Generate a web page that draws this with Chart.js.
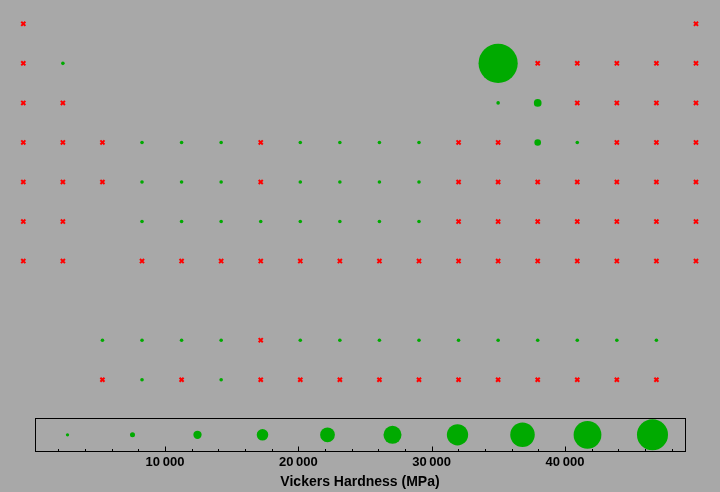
<!DOCTYPE html>
<html><head><meta charset="utf-8">
<script src="https://cdn.jsdelivr.net/npm/chart.js@4.4.1/dist/chart.umd.min.js"></script>
<style>
html,body{margin:0;padding:0;background:#a8a8a8;width:720px;height:492px;overflow:hidden;}
#main{position:absolute;left:0;top:0;}
#leg{position:absolute;left:0;top:400px;}
</style></head><body>
<canvas id="main" width="720" height="400"></canvas>
<canvas id="leg" width="720" height="92"></canvas>
<script>
// Elements in atomic-number order
const elements = ['H','He','Li','Be','B','C','N','O','F','Ne','Na','Mg','Al','Si','P','S','Cl','Ar',
 'K','Ca','Sc','Ti','V','Cr','Mn','Fe','Co','Ni','Cu','Zn','Ga','Ge','As','Se','Br','Kr',
 'Rb','Sr','Y','Zr','Nb','Mo','Tc','Ru','Rh','Pd','Ag','Cd','In','Sn','Sb','Te','I','Xe',
 'Cs','Ba','La','Ce','Pr','Nd','Pm','Sm','Eu','Gd','Tb','Dy','Ho','Er','Tm','Yb','Lu',
 'Hf','Ta','W','Re','Os','Ir','Pt','Au','Hg','Tl','Pb','Bi','Po','At','Rn',
 'Fr','Ra','Ac','Th','Pa','U','Np','Pu','Am','Cm','Bk','Cf','Es','Fm','Md','No','Lr',
 'Rf','Db','Sg','Bh','Hs','Mt','Ds','Rg','Cn','Nh','Fl','Mc','Lv','Ts','Og'];
// Periodic-table column (group) of each element
const groupCol = [1,18, 1,2,13,14,15,16,17,18, 1,2,13,14,15,16,17,18,
 1,2,3,4,5,6,7,8,9,10,11,12,13,14,15,16,17,18,
 1,2,3,4,5,6,7,8,9,10,11,12,13,14,15,16,17,18,
 1,2,3,4,5,6,7,8,9,10,11,12,13,14,15,16,17,
 4,5,6,7,8,9,10,11,12,13,14,15,16,17,18,
 1,2,3,4,5,6,7,8,9,10,11,12,13,14,15,16,17,
 4,5,6,7,8,9,10,11,12,13,14,15,16,17,18];
// Table row (periods 1-7, lanthanides 9, actinides 10)
const tableRow = [1,1, 2,2,2,2,2,2,2,2, 3,3,3,3,3,3,3,3,
 4,4,4,4,4,4,4,4,4,4,4,4,4,4,4,4,4,4,
 5,5,5,5,5,5,5,5,5,5,5,5,5,5,5,5,5,5,
 6,6,9,9,9,9,9,9,9,9,9,9,9,9,9,9,9,
 6,6,6,6,6,6,6,6,6,6,6,6,6,6,6,
 7,7,10,10,10,10,10,10,10,10,10,10,10,10,10,10,10,
 7,7,7,7,7,7,7,7,7,7,7,7,7,7,7];
// Vickers hardness in MPa (null = no data, drawn as a red cross)
const hardness = [null,null, null,1670,49000,null,null,null,null,null, null,null,167,9630,null,null,null,null,
 null,null,null,970,628,1060,null,608,1043,638,369,null,null,8300,1510,null,null,null,
 null,null,null,903,1320,1530,null,2298,1246,461,251,null,null,null,null,null,null,null,
 null,null,491,270,400,343,null,412,167,570,863,540,481,589,520,206,1160,
 1760,873,3430,2450,3920,1760,549,216,null,null,null,null,null,null,null,
 null,null,null,350,null,1960,null,null,null,null,null,null,null,null,null,null,null,
 null,null,null,null,null,null,null,null,null,null,null,null,null,null,null];
// Legend bubble values and axis tick labels
const legendValues = [2687.5,7562.5,12437.5,17312.5,22187.5,27062.5,31937.5,36812.5,41687.5,46562.5];
const axisTicks = [10000,20000,30000,40000];
const axisTitle = 'Vickers Hardness (MPa)';

const GREEN = '#00aa00', RED = '#ff0000';
const mainRadius = v => Math.max(1.8, v / 2500);
const legRadius = v => Math.max(1.65, v / 3000);

const bubbles = [], crosses = [];
elements.forEach((el, i) => {
  const v = hardness[i];
  if (v == null) crosses.push({x: groupCol[i], y: tableRow[i]});
  else bubbles.push({x: groupCol[i], y: tableRow[i], r: mainRadius(v)});
});

Chart.defaults.font.family = "'Liberation Sans', Arial, sans-serif";

new Chart(document.getElementById('main'), {
  type: 'bubble',
  data: { datasets: [
    { type: 'bubble', data: bubbles, backgroundColor: GREEN, borderWidth: 0, clip: false },
    { type: 'scatter', data: crosses, pointStyle: 'crossRot', pointRadius: 2.9, borderColor: RED, backgroundColor: RED, borderWidth: 2, clip: false }
  ]},
  options: {
    responsive: false, animation: false, events: [],
    layout: { padding: 0, autoPadding: false },
    plugins: { legend: { display: false }, tooltip: { enabled: false } },
    scales: {
      x: { type: 'linear', display: false, min: 0.411, max: 18.607 },
      y: { type: 'linear', display: false, reverse: true, min: 0.398, max: 10.512 }
    }
  }
});

const frameTicks = {
  id: 'frameTicks',
  afterDraw(chart) {
    const {ctx, chartArea: a, scales: {x}} = chart;
    ctx.save();
    ctx.strokeStyle = '#000';
    ctx.lineWidth = 1;
    const l = Math.floor(a.left) + 0.5, r = Math.floor(a.right) + 0.5;
    const t = Math.floor(a.top) + 0.5, b = Math.floor(a.bottom) + 0.5;
    ctx.strokeRect(l, t, r - l, b - t);
    ctx.beginPath();
    for (let v = 2000; v < x.max; v += 2000) {
      const px = Math.round(x.getPixelForValue(v)) + 0.5;
      const len = v % 10000 === 0 ? 5 : 2.5;
      ctx.moveTo(px, b);
      ctx.lineTo(px, b - len);
    }
    ctx.stroke();
    ctx.restore();
  }
};

new Chart(document.getElementById('leg'), {
  type: 'bubble',
  data: { datasets: [
    { data: legendValues.map(v => ({x: v, y: 0, r: legRadius(v)})), backgroundColor: GREEN, borderWidth: 0 }
  ]},
  options: {
    responsive: false, animation: false, events: [],
    layout: { padding: { left: 35, right: 35, top: 18, bottom: 0 }, autoPadding: false },
    plugins: { legend: { display: false }, tooltip: { enabled: false } },
    scales: {
      x: {
        type: 'linear', min: 250, max: 49000,
        afterBuildTicks: s => { s.ticks = axisTicks.map(v => ({value: v})); },
        afterFit: s => { s.height = 40.4; },
        grid: { display: false, drawTicks: false },
        border: { display: false },
        ticks: {
          autoSkip: false, maxRotation: 0, padding: 3.5, color: '#000',
          font: { size: 13, weight: 'bold' },
          callback: v => String(v).replace(/\B(?=(\d{3})+(?!\d))/g, '\u2009')
        },
        title: { display: true, text: axisTitle, color: '#000', font: { size: 14, weight: 'bold' }, padding: { top: 4, bottom: 1 } }
      },
      y: { type: 'linear', display: false, min: -1, max: 1 }
    }
  },
  plugins: [frameTicks]
});
</script>
</body></html>
